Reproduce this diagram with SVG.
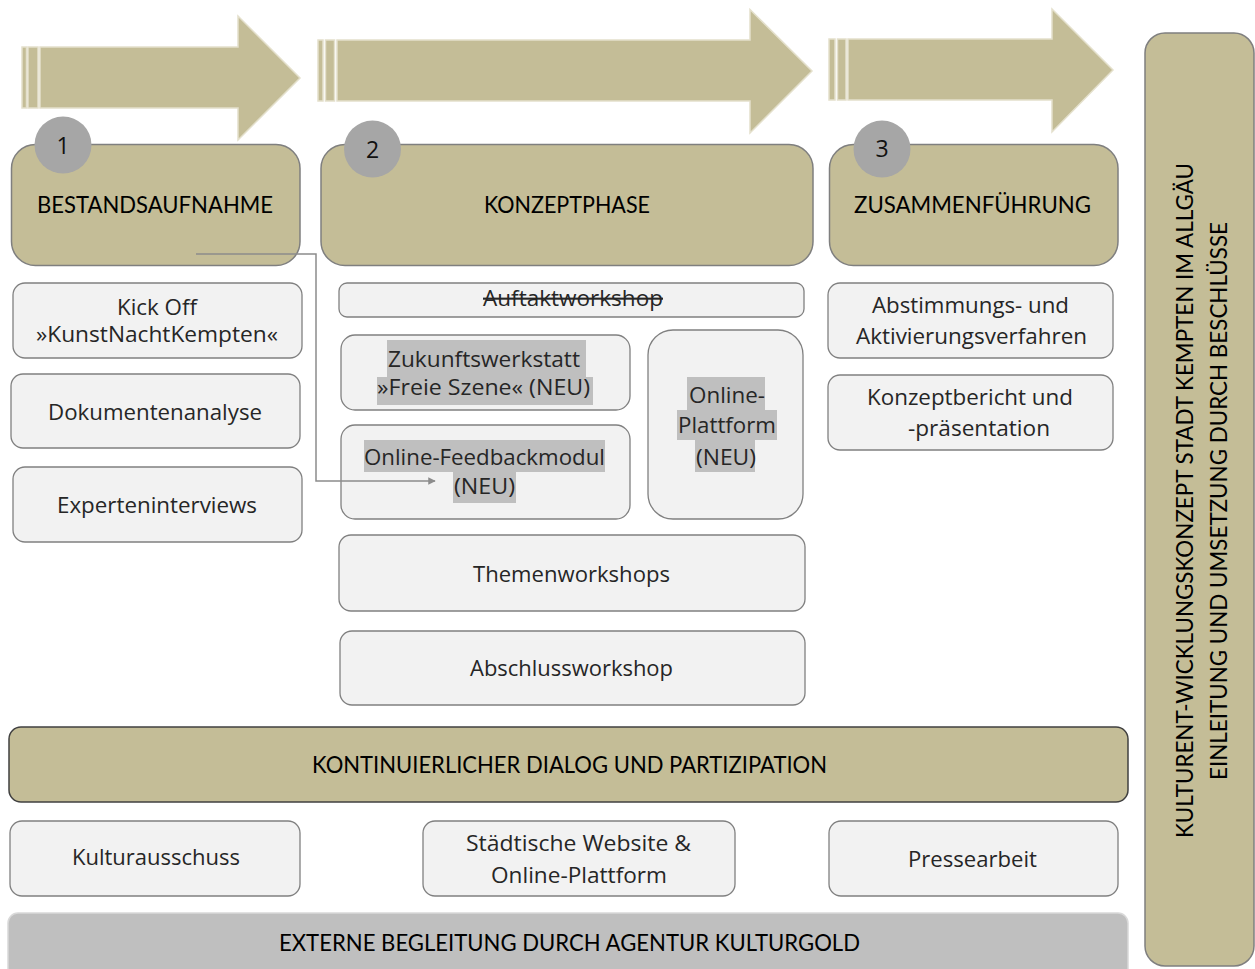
<svg xmlns="http://www.w3.org/2000/svg" width="1255" height="969" viewBox="0 0 1255 969">
<defs>
<style>
.arrow{fill:#C4BD97;stroke:#E4E0CC;stroke-width:1.5}
.phase{fill:#C4BD97;stroke:#7F7F7F;stroke-width:1.5}
.num{fill:#A6A6A6}
.box{fill:#F2F2F2;stroke:#808080;stroke-width:1.3}
.hl{fill:#BFBFBF}
.h{font-family:Lato,"Liberation Sans",sans-serif;font-size:23px;fill:#000}
.t{font-family:"Open Sans","Liberation Sans",sans-serif;font-size:21px;fill:#262626}
.n{font-family:"Open Sans","Liberation Sans",sans-serif;font-size:23px;fill:#111;text-anchor:middle}
.conn{fill:none;stroke:#8C8C8C;stroke-width:1.5}
</style>
<marker id="ah" viewBox="0 0 10 10" refX="9" refY="5" markerWidth="5" markerHeight="5" orient="auto" markerUnits="strokeWidth">
<path d="M0,0 L10,5 L0,10 Z" fill="#8C8C8C"/>
</marker>
</defs>
<rect width="1255" height="969" fill="#fff"/>

<g id="arrow1">
<rect class="arrow" x="22" y="47" width="4.5" height="61"/>
<rect class="arrow" x="28" y="47" width="10" height="61"/>
<path class="arrow" d="M40,47 L238,47 L238,16 L300,78 L238,140 L238,108 L40,108 Z"/>
</g>
<g id="arrow2">
<rect class="arrow" x="318" y="40" width="5" height="61"/>
<rect class="arrow" x="325.5" y="40" width="9" height="61"/>
<path class="arrow" d="M337,40 L750,40 L750,9.5 L812,71 L750,133 L750,101 L337,101 Z"/>
</g>
<g id="arrow3">
<rect class="arrow" x="829" y="39" width="6" height="61"/>
<rect class="arrow" x="837.5" y="39" width="8.5" height="61"/>
<path class="arrow" d="M848,39 L1052,39 L1052,9 L1113,70 L1052,132 L1052,100 L848,100 Z"/>
</g>

<g id="phase1">
<rect class="phase" x="11.5" y="144.5" width="288.5" height="121" rx="24"/>
<circle class="num" cx="63" cy="145" r="28.5"/>
<text class="n" x="63" y="154">1</text>
<text class="h" x="37" y="213" textLength="236" lengthAdjust="spacingAndGlyphs">BESTANDSAUFNAHME</text>
</g>
<g id="phase2">
<rect class="phase" x="321" y="144.5" width="492" height="121" rx="24"/>
<circle class="num" cx="372.5" cy="149" r="28.5"/>
<text class="n" x="372.5" y="158">2</text>
<text class="h" x="484" y="213" textLength="166" lengthAdjust="spacingAndGlyphs">KONZEPTPHASE</text>
</g>
<g id="phase3">
<rect class="phase" x="829.5" y="144.5" width="288.5" height="121" rx="24"/>
<circle class="num" cx="882" cy="149" r="28.5"/>
<text class="n" x="882" y="157">3</text>
<text class="h" x="854" y="213" textLength="237" lengthAdjust="spacingAndGlyphs">ZUSAMMENFÜHRUNG</text>
</g>

<g id="kickoff">
<rect class="box" x="13" y="283" width="289" height="75" rx="12"/>
<text class="t" x="117" y="315" textLength="80" lengthAdjust="spacingAndGlyphs">Kick Off</text>
<text class="t" x="36" y="342" textLength="242" lengthAdjust="spacingAndGlyphs">»KunstNachtKempten«</text>
</g>
<g id="dokumentenanalyse">
<rect class="box" x="11" y="374" width="289" height="74" rx="12"/>
<text class="t" x="48" y="420" textLength="214" lengthAdjust="spacingAndGlyphs">Dokumentenanalyse</text>
</g>
<g id="experteninterviews">
<rect class="box" x="13" y="467" width="289" height="75" rx="12"/>
<text class="t" x="57" y="513" textLength="200" lengthAdjust="spacingAndGlyphs">Experteninterviews</text>
</g>

<g id="auftaktworkshop">
<rect class="box" x="339" y="283" width="465" height="34" rx="8"/>
<text class="t" x="483" y="306" textLength="180" lengthAdjust="spacingAndGlyphs" style="text-decoration:line-through">Auftaktworkshop</text>
</g>
<g id="zukunftswerkstatt">
<rect class="box" x="341" y="335" width="289" height="75" rx="14"/>
<rect class="hl" x="387" y="340" width="199" height="37"/>
<rect class="hl" x="377" y="377" width="216" height="28"/>
<text class="t" x="388" y="367" textLength="192" lengthAdjust="spacingAndGlyphs">Zukunftswerkstatt</text>
<text class="t" x="377" y="395" textLength="213" lengthAdjust="spacingAndGlyphs">»Freie Szene« (NEU)</text>
</g>
<g id="feedbackmodul">
<rect class="box" x="341" y="425" width="289" height="94" rx="14"/>
<rect class="hl" x="364" y="440" width="241" height="32"/>
<rect class="hl" x="453" y="472" width="63" height="31"/>
<text class="t" x="364" y="465" textLength="241" lengthAdjust="spacingAndGlyphs">Online-Feedbackmodul</text>
<text class="t" x="454" y="494" textLength="61" lengthAdjust="spacingAndGlyphs">(NEU)</text>
</g>
<g id="onlineplattform">
<rect class="box" x="648" y="330" width="155" height="189" rx="25"/>
<rect class="hl" x="687" y="377" width="78" height="33"/>
<rect class="hl" x="677" y="410" width="100" height="30"/>
<rect class="hl" x="695" y="440" width="60" height="32"/>
<text class="t" x="689" y="403" textLength="76" lengthAdjust="spacingAndGlyphs">Online-</text>
<text class="t" x="678" y="433" textLength="98" lengthAdjust="spacingAndGlyphs">Plattform</text>
<text class="t" x="696" y="465" textLength="60" lengthAdjust="spacingAndGlyphs">(NEU)</text>
</g>
<g id="themenworkshops">
<rect class="box" x="339" y="535" width="466" height="76" rx="12"/>
<text class="t" x="473" y="582" textLength="197" lengthAdjust="spacingAndGlyphs">Themenworkshops</text>
</g>
<g id="abschlussworkshop">
<rect class="box" x="340" y="631" width="465" height="74" rx="12"/>
<text class="t" x="470" y="676" textLength="203" lengthAdjust="spacingAndGlyphs">Abschlussworkshop</text>
</g>

<g id="abstimmung">
<rect class="box" x="828" y="283" width="285" height="75" rx="12"/>
<text class="t" x="872" y="313" textLength="197" lengthAdjust="spacingAndGlyphs">Abstimmungs- und</text>
<text class="t" x="856" y="344" textLength="231" lengthAdjust="spacingAndGlyphs">Aktivierungsverfahren</text>
</g>
<g id="konzeptbericht">
<rect class="box" x="828" y="375" width="285" height="75" rx="12"/>
<text class="t" x="867" y="405" textLength="206" lengthAdjust="spacingAndGlyphs">Konzeptbericht und</text>
<text class="t" x="908" y="436" textLength="142" lengthAdjust="spacingAndGlyphs">-präsentation</text>
</g>

<g id="dialog">
<rect x="9" y="727" width="1119" height="75" rx="12" fill="#C4BD97" stroke="#404040" stroke-width="1.5"/>
<text class="h" x="312" y="773" textLength="515" lengthAdjust="spacingAndGlyphs">KONTINUIERLICHER DIALOG UND PARTIZIPATION</text>
</g>
<g id="kulturausschuss">
<rect class="box" x="10" y="821" width="290" height="75" rx="12"/>
<text class="t" x="72" y="865" textLength="168" lengthAdjust="spacingAndGlyphs">Kulturausschuss</text>
</g>
<g id="website">
<rect class="box" x="423" y="821" width="312" height="75" rx="12"/>
<text class="t" x="466" y="851" textLength="225" lengthAdjust="spacingAndGlyphs">Städtische Website &amp;</text>
<text class="t" x="491" y="883" textLength="176" lengthAdjust="spacingAndGlyphs">Online-Plattform</text>
</g>
<g id="pressearbeit">
<rect class="box" x="829" y="821" width="289" height="75" rx="12"/>
<text class="t" x="908" y="867" textLength="129" lengthAdjust="spacingAndGlyphs">Pressearbeit</text>
</g>
<g id="externe">
<rect x="8" y="913" width="1120" height="70" rx="10" fill="#BFBFBF" stroke="#D9D9D9" stroke-width="1.5"/>
<text class="h" x="279" y="951" textLength="581" lengthAdjust="spacingAndGlyphs">EXTERNE BEGLEITUNG DURCH AGENTUR KULTURGOLD</text>
</g>

<g id="kulturentwicklungskonzept">
<rect x="1145" y="33" width="109" height="933" rx="20" fill="#C4BD97" stroke="#7F7F7F" stroke-width="1.5"/>
<text class="h" transform="translate(1193,838) rotate(-90)" x="0" y="0" textLength="675" lengthAdjust="spacingAndGlyphs">KULTURENT-WICKLUNGSKONZEPT STADT KEMPTEN IM ALLGÄU</text>
<text class="h" transform="translate(1227,780) rotate(-90)" x="0" y="0" textLength="558" lengthAdjust="spacingAndGlyphs">EINLEITUNG UND UMSETZUNG DURCH BESCHLÜSSE</text>
</g>

<g id="connectors">
<path class="conn" d="M196,254 L316,254 L316,481 L435,481" marker-end="url(#ah)"/>
</g>
</svg>
